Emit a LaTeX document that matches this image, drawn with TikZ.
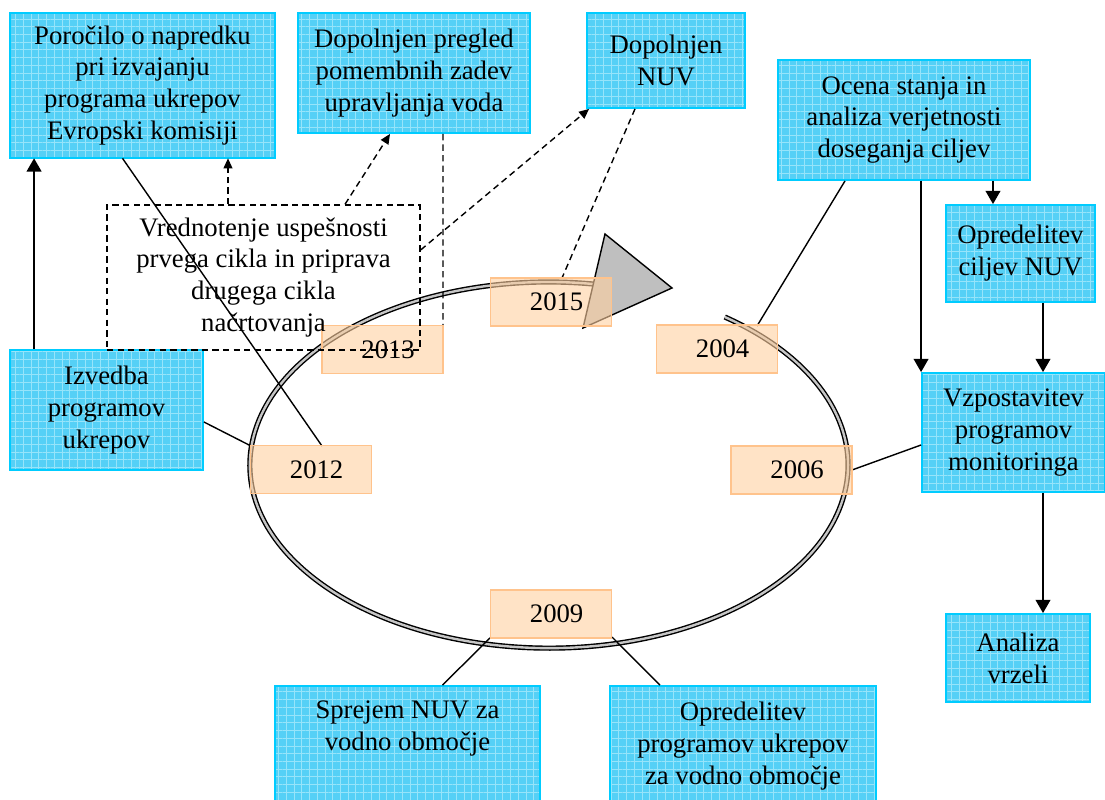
\documentclass[tikz,border=0pt]{standalone}
\usepackage{fontspec}
\setmainfont{Liberation Serif}
\usetikzlibrary{arrows.meta,patterns.meta}

\definecolor{boxfill}{RGB}{85,208,246}
\definecolor{boxgrid}{RGB}{150,228,250}
\definecolor{boxedge}{RGB}{0,204,255}
\definecolor{yearfill}{RGB}{255,208,160}
\definecolor{yearedge}{RGB}{255,195,140}

\tikzset{
    txt/.style={font=\fontsize{19}{22.7}\selectfont, align=center, inner sep=0pt},
    bluebox/.style={txt, draw=boxedge, line width=1.3pt,
        preaction={fill=boxfill},
        pattern={Hatch[angle=0, distance=5.5pt, line width=0.45pt]}, pattern color=boxgrid},
    yearbox/.style={txt, draw=yearedge, line width=1.3pt, fill=yearfill, fill opacity=0.6,
        text opacity=1, minimum width=3.025cm, minimum height=1.2cm},
    arr/.style={-{Triangle[length=0.33cm, width=0.37cm]}, line width=1pt},
    darr/.style={-{Triangle[length=0.25cm, width=0.22cm]}, line width=1pt, dash pattern=on 4.5pt off 3pt},
    conn/.style={line width=1pt},
    dconn/.style={line width=1pt, dash pattern=on 4.5pt off 3pt}
}

\begin{document}
\begin{tikzpicture}[x=0.025cm, y=-0.025cm]
    \useasboundingbox (0,0) rectangle (1105,800);

    % cycle
    \draw[line width=1pt, double=gray!45, double distance=1.7pt]
        (600.9,284.8) arc[start angle=80, end angle=414, x radius=7.475cm, y radius=4.575cm];
    \draw[line width=1pt, fill=gray!50] (605,234) -- (672,288) -- (583,328) -- cycle;

    % blue boxes
    \node[bluebox, minimum width=6.625cm, minimum height=3.625cm] (pnap) at (142.5,85.5)
        {Poročilo o napredku\\pri izvajanju\\programa ukrepov\\Evropski komisiji};
    \node[bluebox, minimum width=5.8cm, minimum height=3cm] (pregl) at (414,73)
        {Dopolnjen pregled\\pomembnih zadev\\upravljanja voda};
    \node[bluebox, minimum width=3.95cm, minimum height=2.375cm] (dnuv) at (666,60.5)
        {Dopolnjen\\NUV};
    \node[bluebox, minimum width=6.3cm, minimum height=3cm] (ocena) at (904,120)
        {Ocena stanja in\\analiza verjetnosti\\doseganja ciljev};
    \node[bluebox, minimum width=3.725cm, minimum height=2.425cm] (cilj) at (1020.5,253.5)
        {Opredelitev\\ciljev NUV};
    \node[bluebox, minimum width=4.575cm, minimum height=2.975cm] (vzpo) at (1013.5,432.5)
        {Vzpostavitev\\programov\\monitoringa};
    \node[bluebox, minimum width=3.6cm, minimum height=2.2cm] (vrz) at (1018,658)
        {Analiza\\vrzeli};
    \node[bluebox, minimum width=4.825cm, minimum height=3cm] (izv) at (106.5,410)
        {Izvedba\\programov\\ukrepov};
    \node[bluebox, minimum width=6.625cm, minimum height=3cm] (sprej) at (407.5,746)
        {Sprejem NUV za\\vodno območje\\\strut};
    \node[bluebox, minimum width=6.65cm, minimum height=3cm] (oprog) at (743,746)
        {Opredelitev\\programov ukrepov\\za vodno območje};

    % connectors
    \draw[arr] ([xshift=0.625cm]izv.north west) -- ([xshift=0.625cm]izv.north west |- pnap.south);
    \draw[conn] ([xshift=-0.5cm]pnap.south) -- (322,446);
    \draw[conn] ([yshift=-0.3cm]izv.east) -- (251,446);
    \draw[dconn] ([xshift=-0.775cm]dnuv.south) -- (562,278);
    \draw[dconn] ([xshift=0.725cm]pregl.south) -- (443,326);
    \draw[conn] ([xshift=-1.475cm]ocena.south) -- (757,326);
    \draw[arr] (vzpo.north west |- ocena.south) -- (vzpo.north west);
    \draw[arr] ([xshift=-0.6875cm]cilj.north |- ocena.south) -- ([xshift=-0.6875cm]cilj.north);
    \draw[arr] ([xshift=0.5625cm]cilj.south) -- ([xshift=0.5625cm]cilj.south |- vzpo.north);
    \draw[arr] ([xshift=0.7375cm]vzpo.south) -- ([xshift=0.7375cm]vzpo.south |- vrz.north);
    \draw[conn] ([yshift=-0.3125cm]vzpo.west) -- (852,470);
    \draw[conn] (491,637) -- ([xshift=0.875cm]sprej.north);
    \draw[conn] (612,637) -- ([xshift=-2.075cm]oprog.north);

    % years
    \node[yearbox] (y2015) at (551,302) {\hspace{8pt}2015};
    \node[yearbox] (y2013) at (382.5,349.5) {\hspace{8pt}2013};
    \node[yearbox] (y2012) at (311,469.5) {\hspace{8pt}2012};
    \node[yearbox] (y2004) at (717,349) {\hspace{8pt}2004};
    \node[yearbox] (y2006) at (791.5,470) {\hspace{8pt}2006};
    \node[yearbox] (y2009) at (551,614) {\hspace{8pt}2009};

    % evaluation box
    \node[txt, draw, dash pattern=on 4.5pt off 3pt, line width=1pt,
        minimum width=7.825cm, minimum height=3.625cm] (vred) at (263.5,277.5)
        {Vrednotenje uspešnosti\\prvega cikla in priprava\\drugega cikla\\načrtovanja};
    \draw[darr] ([xshift=-0.8875cm]vred.north) -- ([xshift=-0.8875cm]vred.north |- pnap.south);
    \draw[darr] ([xshift=2.0375cm]vred.north) -- ([xshift=-0.6cm]pregl.south);
    \draw[darr] ([yshift=0.69cm]vred.east) -- ([xshift=0.075cm]dnuv.south west);
\end{tikzpicture}
\end{document}
